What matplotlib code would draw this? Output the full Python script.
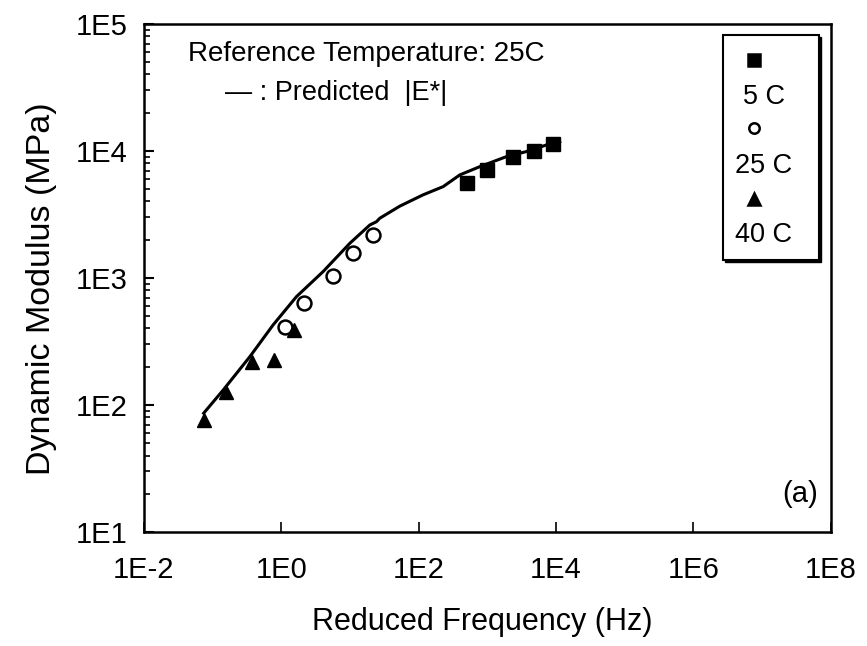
import numpy as np
import matplotlib
matplotlib.use("Agg")
import matplotlib.pyplot as plt
import matplotlib.patches as patches
from matplotlib.ticker import LogLocator, NullFormatter, FixedLocator, FixedFormatter

plt.rcParams['font.family'] = ['Liberation Sans', 'DejaVu Sans']

# measured data (reduced frequency in Hz, modulus in MPa)
f_5c = [500, 980, 2400, 4800, 9100]
e_5c = [5620, 7080, 9020, 10000, 11350]

f_25c = [1.12, 2.14, 5.6, 11.2, 21.9]
e_25c = [414, 640, 1038, 1563, 2183]

f_40c = [0.0746, 0.155, 0.37, 0.78, 1.52]
e_40c = [76, 127, 217, 226, 390]

# predicted |E*| master curve
f_pred = [0.0741, 0.1426, 0.349, 0.762, 1.667, 4.07, 9.98, 19.5, 24.4, 27.2,
          53.2, 116, 228, 398, 778, 1901, 3724, 7278, 11350]
e_pred = [86.1, 131, 240, 427, 713, 1122, 1875, 2612, 2773, 2951,
          3673, 4508, 5236, 6471, 7516, 9016, 9886, 11140, 11830]

x_ticks = [1e-2, 1e0, 1e2, 1e4, 1e6, 1e8]
x_labels = ['1E-2', '1E0', '1E2', '1E4', '1E6', '1E8']
y_ticks = [1e1, 1e2, 1e3, 1e4, 1e5]
y_labels = ['1E1', '1E2', '1E3', '1E4', '1E5']

fig = plt.figure(figsize=(8.67, 6.46), dpi=100)
ax = fig.add_axes([0.166, 0.1765, 0.792, 0.7865])

ax.plot(f_pred, e_pred, color='black', lw=2.2, zorder=2)
ax.plot(f_5c, e_5c, 's', color='black', ms=9.5, zorder=3)
ax.plot(f_25c, e_25c, 'o', mfc='white', mec='black', mew=1.8, ms=10, zorder=3)
ax.plot(f_40c, e_40c, '^', color='black', ms=10, zorder=3)

ax.set_xscale('log')
ax.set_yscale('log')
ax.set_xlim(1e-2, 1e8)
ax.set_ylim(1e1, 1e5)

ax.xaxis.set_major_locator(FixedLocator(x_ticks))
ax.xaxis.set_major_formatter(FixedFormatter(x_labels))
ax.xaxis.set_minor_locator(FixedLocator([]))
ax.yaxis.set_major_locator(FixedLocator(y_ticks))
ax.yaxis.set_major_formatter(FixedFormatter(y_labels))
ax.yaxis.set_minor_locator(LogLocator(base=10, subs=np.arange(2, 10)))
ax.yaxis.set_minor_formatter(NullFormatter())

ax.tick_params(axis='x', which='major', direction='in', length=7, width=1.2,
               labelsize=21, pad=17, top=False)
ax.tick_params(axis='y', which='major', direction='in', length=7, width=1.5,
               labelsize=21, pad=12, right=False)
ax.tick_params(axis='y', which='minor', direction='in', length=4, width=1.2, right=False)

for s in ax.spines.values():
    s.set_linewidth(1.8)

ax.set_xlabel('Reduced Frequency (Hz)', fontsize=22)
ax.set_ylabel('Dynamic Modulus (MPa)', fontsize=24.5)
ax.xaxis.set_label_coords(0.492, -0.148)
ax.yaxis.set_label_coords(-0.126, 0.478)

ax.text(0.064, (532 - 54) / 508, 'Reference Temperature: 25C', transform=ax.transAxes,
        fontsize=20, va='center', ha='left')
ax.text(0.118, (532 - 93) / 508, '\u2014 : Predicted  |E*|', transform=ax.transAxes,
        fontsize=19.5, va='center', ha='left')
ax.text(0.981, 0.074, '(a)', transform=ax.transAxes, fontsize=21,
        va='center', ha='right')

# legend box with shadow, markers stacked above labels
bx0, bx1 = (723 - 144) / 687, (819 - 144) / 687
by0, by1 = (532 - 260) / 508, (532 - 35) / 508
shadow = patches.Rectangle((bx0 + 0.004, by0 - 0.005), bx1 - bx0, by1 - by0,
                           transform=ax.transAxes, facecolor='black',
                           edgecolor='black', zorder=4)
box = patches.Rectangle((bx0, by0), bx1 - bx0, by1 - by0, transform=ax.transAxes,
                        facecolor='white', edgecolor='black', lw=1.5, zorder=5)
ax.add_patch(shadow)
ax.add_patch(box)

key_x = (754 - 144) / 687
keys = [('s', 'black', 'black', 60, 97, '5 C'),
        ('o', 'white', 'black', 128, 166, '25 C'),
        ('^', 'black', 'black', 199, 235, '40 C')]
for mk, fc, ec, my, ty, lab in keys:
    ax.plot([key_x], [(532 - my) / 508], mk, mfc=fc, mec=ec, mew=1.8,
            ms=8 if mk != 'o' else 7.5, transform=ax.transAxes, zorder=6,
            clip_on=False)
    ax.text((764 - 144) / 687, (532 - ty) / 508, lab, transform=ax.transAxes,
            fontsize=19.5, ha='center', va='center', zorder=6)

fig.savefig('out.png', dpi=100)
